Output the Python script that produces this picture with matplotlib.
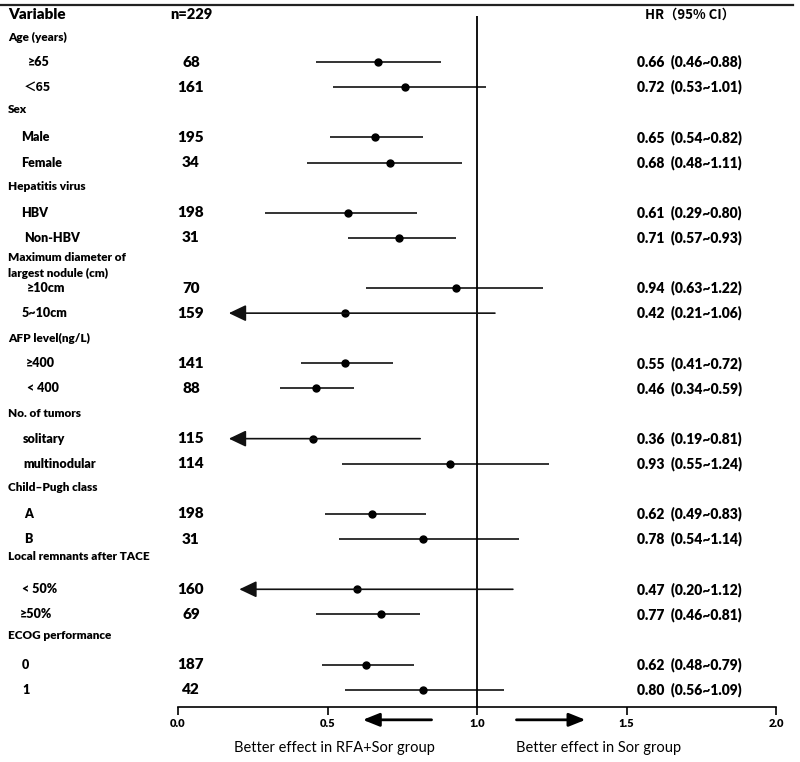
import matplotlib
matplotlib.use("Agg")
import matplotlib.pyplot as plt
from matplotlib.lines import Line2D
from matplotlib.transforms import blended_transform_factory

fam = ['Lato', 'Noto Sans CJK SC', 'DejaVu Sans']
plt.rcParams['font.family'] = fam

# subgroup rows
labels = ["≥65", "＜65", "Male", "Female", "HBV", "Non-HBV", "≥10cm", "5~10cm",
          "≥400", "< 400", "solitary", "multinodular", "A", "B", "< 50%", "≥50%", "0", "1"]
n_pat = [68, 161, 195, 34, 198, 31, 70, 159, 141, 88, 115, 114, 198, 31, 160, 69, 187, 42]
hr = [0.66, 0.72, 0.65, 0.68, 0.61, 0.71, 0.94, 0.42, 0.55, 0.46, 0.36, 0.93, 0.62, 0.78, 0.47, 0.77, 0.62, 0.80]
ci_lo = [0.46, 0.53, 0.54, 0.48, 0.29, 0.57, 0.63, 0.21, 0.41, 0.34, 0.19, 0.55, 0.49, 0.54, 0.20, 0.46, 0.48, 0.56]
ci_hi = [0.88, 1.01, 0.82, 1.11, 0.80, 0.93, 1.22, 1.06, 0.72, 0.59, 0.81, 1.24, 0.83, 1.14, 1.12, 0.81, 0.79, 1.09]

# positions as drawn in the figure (they don't all agree with the printed HR)
dot_x = [0.67, 0.76, 0.66, 0.71, 0.57, 0.74, 0.93, 0.56, 0.56, 0.46, 0.45, 0.91, 0.65, 0.82, 0.60, 0.68, 0.63, 0.82]
lo_x = [0.46, 0.52, 0.51, 0.43, 0.29, 0.57, 0.63, 0.17, 0.41, 0.34, 0.17, 0.55, 0.49, 0.54, 0.205, 0.46, 0.48, 0.56]
hi_x = [0.88, 1.03, 0.82, 0.95, 0.80, 0.93, 1.22, 1.06, 0.72, 0.59, 0.81, 1.24, 0.83, 1.14, 1.12, 0.81, 0.79, 1.09]
arrow = [False, False, False, False, False, False, False, True, False, False,
         True, False, False, False, True, False, False, False]
rows = [1, 2, 4, 5, 7, 8, 10, 11, 13, 14, 16, 17, 19, 20, 22, 23, 25, 26]
label_x = [28, 24, 21, 21, 21, 24, 27, 22, 26, 27, 23, 23, 24, 24, 22, 20, 22, 22]

groups = ["Age (years)", "Sex", "Hepatitis virus", "Maximum diameter of", "largest nodule (cm)",
          "AFP level(ng/L)", "No. of tumors", "Child\u2013Pugh class",
          "Local remnants after TACE", "ECOG performance"]
group_rows = [0, -0.1, -0.06, -0.2, 0.4, 0, 0, -0.07, -0.3, -0.14]
group_base = [0, 3, 6, 9, 9, 12, 15, 18, 21, 24]

ticks = [0.0, 0.5, 1.0, 1.5, 2.0]
ink = '#111111'

fig = plt.figure(figsize=(8, 7.62), dpi=100)
ax = fig.add_axes([178 / 800, 0, 598 / 800, 1])
ax.set_xlim(0, 2)
ax.set_ylim(28.88, -1.474)
ax.patch.set_visible(False)

# CI lines, arrows and points
for i, y in enumerate(rows):
    if arrow[i]:
        ax.annotate('', xy=(lo_x[i], y), xytext=(hi_x[i], y),
                    arrowprops=dict(arrowstyle='-|>,head_length=1.05,head_width=0.5',
                                    mutation_scale=10, lw=1.2, color=ink,
                                    shrinkA=0, shrinkB=0))
    else:
        ax.hlines(y, lo_x[i], hi_x[i], color=ink, lw=1.2)
ax.plot(dot_x, rows, 'o', color='black', ms=5)

# reference line at HR = 1
ax.vlines(1.0, -0.84, 26.69, color='black', lw=1.3)

# bottom axis
for s in ['top', 'left', 'right']:
    ax.spines[s].set_visible(False)
ax.spines['bottom'].set_position(('data', 26.69))
ax.spines['bottom'].set_bounds(0, 2)
ax.spines['bottom'].set_linewidth(1.2)
ax.set_xticks(ticks)
ax.set_xticklabels([f"{t:.1f}" for t in ticks], fontsize=8, fontweight='heavy')
ax.tick_params(axis='x', direction='out', length=6, width=1.2, pad=2)
ax.set_yticks([])

# direction arrows and captions
for tail, tip in [(0.848, 0.618), (1.132, 1.363)]:
    ax.annotate('', xy=(tip, 27.2), xytext=(tail, 27.2),
                arrowprops=dict(arrowstyle='-|>,head_length=1.0,head_width=0.4',
                                mutation_scale=10, lw=2, color='black', shrinkA=0, shrinkB=0),
                annotation_clip=False)
ax.text(0.523, 28.33, "Better effect in RFA+Sor group", ha='center', va='center', fontsize=10.5)
ax.text(1.406, 28.33, "Better effect in Sor group", ha='center', va='center', fontsize=10.5)

# table text, x in figure pixels / 800, y in rows
tr = blended_transform_factory(fig.transFigure, ax.transData)
ax.text(8 / 800, -0.88, "Variable", transform=tr, fontsize=11, fontweight='heavy', va='center')
ax.text(191 / 800, -0.88, "n=229", transform=tr, fontsize=10.5, fontweight='heavy',
        va='center', ha='center')
ax.text(645 / 800, -0.88, "HR（95% CI）", transform=tr, fontsize=9.5,
        fontweight='heavy', va='center', family=['Noto Sans CJK SC', 'Lato'])

for g, b, d in zip(groups, group_base, group_rows):
    ax.text(8 / 800, b + d, g, transform=tr, fontsize=8.5, fontweight='heavy', va='center')

for i, y in enumerate(rows):
    lab_fam = ['Noto Sans CJK SC', 'Lato'] if '＜' in labels[i] else fam
    ax.text(label_x[i] / 800, y, labels[i], transform=tr, fontsize=9, fontweight='heavy',
            va='center', family=lab_fam)
    ax.text(191 / 800, y, str(n_pat[i]), transform=tr, fontsize=11, fontweight='heavy',
            va='center', ha='center')
    ax.text(637 / 800, y, f"{hr[i]:.2f}  ({ci_lo[i]:.2f}~{ci_hi[i]:.2f})", transform=tr,
            fontsize=10, fontweight='heavy', va='center')

# rule across the top
fig.add_artist(Line2D([0, 793 / 800], [1 - 5 / 762, 1 - 5 / 762], transform=fig.transFigure,
                      color='#222222', lw=1.6))

fig.savefig("out.png", dpi=100)
